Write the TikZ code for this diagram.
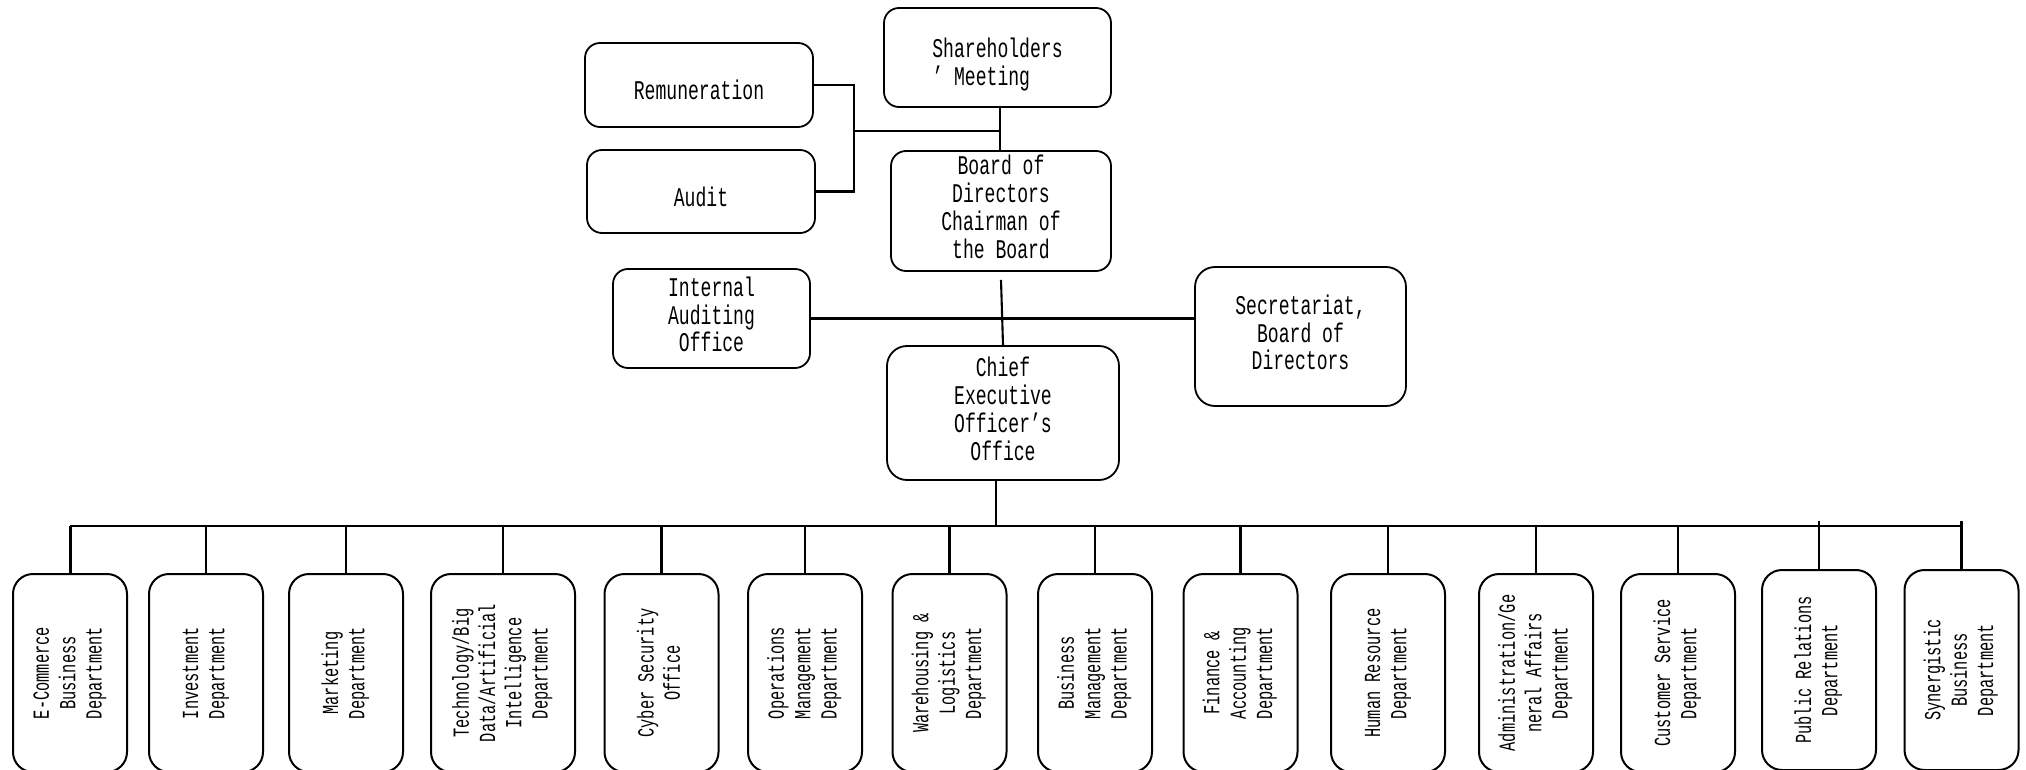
\documentclass[tikz,border=0pt]{standalone}
\usepackage{fontspec}
\usepackage{graphicx}
\newfontfamily\topfont[FakeStretch=0.67]{Liberation Mono}
\newfontfamily\botfont[FakeStretch=0.667]{Liberation Mono}
\newcommand{\vlab}[1]{\rotatebox{90}{\begin{tabular}{@{}c@{}}#1\end{tabular}}}
\newcommand{\tlab}[1]{\begin{tabular}{@{}c@{}}#1\end{tabular}}
\begin{document}
\begin{tikzpicture}[x=1pt,y=-1pt,
  topbox/.style={draw,line width=1.8pt,rounded corners=15pt,inner sep=0pt,align=center,
    font=\topfont\fontsize{27}{27.5}\selectfont},
  deptbox/.style={draw,line width=2pt,rounded corners=20pt,inner sep=0pt,
    minimum width=114pt,minimum height=198pt,font=\botfont\fontsize{23}{26.3}\selectfont},
  conn/.style={line width=2.1pt}]
\useasboundingbox (0,0) rectangle (2026,770);
\fill[white] (0,0) rectangle (2026,770);

% upper part
\node[topbox,minimum width=227pt,minimum height=99pt] (share) at (997.5,57.5)
  {\raisebox{-8pt}[\height][\depth]{\begin{tabular}{@{}l@{}}Shareholders\\’ Meeting\end{tabular}}};
\node[topbox,minimum width=228pt,minimum height=84pt] (remun) at (699,85)
  {\raisebox{-5pt}[\height][\depth]{Remuneration}};
\node[topbox,minimum width=228pt,minimum height=83pt] (audit) at (701,191.5)
  {\raisebox{-5pt}[\height][\depth]{Audit}};
\node[topbox,minimum width=220pt,minimum height=120pt] (board) at (1001,211)
  {\tlab{Board of\\Directors\\Chairman of\\the Board}};
\node[topbox,minimum width=197pt,minimum height=99pt] (internal) at (711.5,318.5)
  {\tlab{Internal\\Auditing\\Office}};
\node[topbox,rounded corners=20pt,minimum width=211pt,minimum height=139pt] (secret) at (1300.5,336.5)
  {\tlab{Secretariat,\\Board of\\Directors}};
\node[topbox,rounded corners=20pt,minimum width=232pt,minimum height=134pt] (ceo) at (1003,413)
  {\tlab{Chief\\Executive\\Officer’s\\Office}};

\coordinate (brk) at (854,131);
\coordinate (j1) at (1000,131);
\draw[conn] (remun.east) -| (brk) |- (audit.east);
\draw[line width=1.5pt] (brk) -- (j1);
\draw[conn] (j1 |- share.south) -- (j1 |- board.north);
\draw[conn] ([yshift=-8pt]board.south) -- (ceo.north);
\draw[conn] (internal.east) -- (internal.east -| secret.west);

% departments
\node[deptbox] (d1) at (70,673) {\vlab{E-Commerce\\Business\\Department}};
\node[deptbox] (d2) at (206,673) {\vlab{Investment\\Department}};
\node[deptbox] (d3) at (346,673) {\vlab{Marketing\\Department}};
\node[deptbox,minimum width=144pt] (d4) at (503,673) {\vlab{Technology/Big\\Data/Artificial\\Intelligence\\Department}};
\node[deptbox] (d5) at (661.5,673) {\vlab{Cyber Security\\Office}};
\node[deptbox] (d6) at (805,673) {\vlab{Operations\\Management\\Department}};
\node[deptbox] (d7) at (949.5,673) {\vlab{Warehousing \&\\Logistics\\Department}};
\node[deptbox] (d8) at (1095,673) {\vlab{Business\\Management\\Department}};
\node[deptbox] (d9) at (1240.5,673) {\vlab{Finance \&\\Accounting\\Department}};
\node[deptbox] (d10) at (1388,673) {\vlab{Human Resource\\Department}};
\node[deptbox] (d11) at (1536,673) {\vlab{Administration/Ge\\neral Affairs\\Department}};
\node[deptbox] (d12) at (1678,673) {\vlab{Customer Service\\Department}};
\node[deptbox,minimum height=200pt] (d13) at (1819,670) {\vlab{Public Relations\\Department}};
\node[deptbox,minimum height=200pt] (d14) at (1961.5,670) {\vlab{Synergistic\\Business\\Department}};

\coordinate (cj) at (996,526);
\draw[conn] (cj |- ceo.south) -- (cj);
\draw[line width=2.4pt] (d1.north |- cj) -- (d14.north |- cj);
\draw[line width=3pt] (d1.north |- cj) -- (d1.north);
\foreach \i in {2,...,12} \draw[conn] (d\i.north |- cj) -- (d\i.north);
\draw[conn] (d13.north |- cj) ++(0,-5) -- (d13.north);
\draw[conn] (d14.north |- cj) ++(0,-5) -- (d14.north);
\end{tikzpicture}
\end{document}
